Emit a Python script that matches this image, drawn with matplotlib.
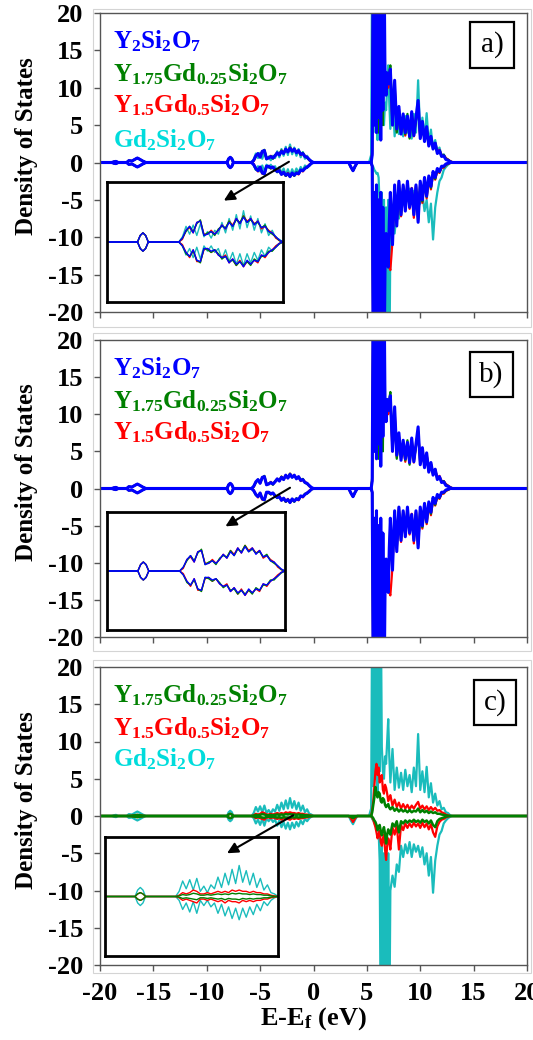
import matplotlib
matplotlib.use("Agg")
import matplotlib.pyplot as plt
from matplotlib.patches import Rectangle, ConnectionPatch

plt.rcParams["font.family"] = ["Liberation Serif", "DejaVu Serif"]
plt.rcParams["font.weight"] = "bold"
plt.rcParams["mathtext.fontset"] = "custom"
plt.rcParams["mathtext.rm"] = "Liberation Serif:bold"
plt.rcParams["mathtext.bf"] = "Liberation Serif:bold"
plt.rcParams["mathtext.it"] = "Liberation Serif:bold"
plt.rcParams["axes.unicode_minus"] = False

# ---- energy grids (eV) ----
E_LOW = [-20.0, -18.9, -18.7, -18.5, -18.3, -17.5, -17.3, -17.0, -16.7, -16.5, -16.3,
         -16.0, -15.7, -8.1, -7.95, -7.8, -7.65, -7.5, -6.0]
E_VB = [-5.8, -5.6, -5.4, -5.2, -5.0, -4.8, -4.6, -4.4, -4.2, -4.0,
        -3.8, -3.6, -3.4, -3.2, -3.0, -2.8, -2.6, -2.4, -2.2, -2.0,
        -1.8, -1.6, -1.4, -1.2, -1.0, -0.8, -0.6, -0.4, -0.2, 0.0]
E_GAP = [0.4, 3.3, 3.5, 3.7, 3.9, 4.1, 5.2]
E_EDGE = [5.4, 5.5, 5.6, 5.7, 5.8, 5.9, 6.0, 6.1, 6.2, 6.3,
          6.4, 6.5, 6.6, 6.7, 6.8, 6.9, 7.0, 7.1]
E_CB = [7.2, 7.4, 7.6, 7.8, 8.0, 8.2, 8.4, 8.6,
        8.8, 9.0, 9.2, 9.4, 9.6, 9.8, 10.0, 10.2, 10.4, 10.6,
        10.8, 11.0, 11.2, 11.4, 11.6, 11.8, 12.0, 12.2, 12.4, 12.6,
        12.8, 13.0, 13.2]
E_TAIL = [13.4, 20.0]

# ---- shared small features (full compounds) ----
LOW_UP = [0, 0, 0.1, 0.15, 0, 0, 0.25, 0.2, 0.45, 0.6, 0.45, 0.2, 0, 0, 0.5, 0.7, 0.5, 0, 0]
LOW_DN = [0, 0, -0.1, -0.15, 0, 0, -0.25, -0.2, -0.45, -0.6, -0.45, -0.2, 0, 0, -0.5, -0.7, -0.5, 0, 0]
GAP_UP = [0, 0, 0, 0, 0, 0, 0]
GAP_DN = [0, 0, -0.6, -1.1, -0.5, 0, 0]
TAIL = [0, 0]

# ---- Y2Si2O7 ----
Y2_VB_UP = [0.0, 0.3, 0.9, 1.2, 0.7, 1.5, 1.6, 0.5, 0.6, 0.8, 0.6, 0.9, 1.3, 1.0, 1.5,
            1.2, 1.8, 1.4, 1.9, 1.5, 1.8, 1.3, 1.6, 1.1, 1.2, 0.8, 0.7, 0.4, 0.15, 0.0]
Y2_VB_DN = [0.0, -0.3, -0.8, -1.1, -0.6, -1.4, -1.5, -0.5, -0.5, -0.7, -0.6, -1.0, -1.2, -1.1, -1.6,
            -1.3, -1.7, -1.5, -1.9, -1.4, -1.7, -1.4, -1.5, -1.0, -1.1, -0.8, -0.6, -0.4, -0.1, 0.0]
Y2_EDGE_UP = [0, 1, 30, 5, 36, 4, 38, 6, 35, 3, 36, 7, 30, 11, 9, 12, 10.5, 11.5]
Y2_EDGE_DN = [0, -0.5, -28, -4, -34, -3, -36, -5, -33, -4, -35, -6, -30, -14, -9.5, -12, -14, -8]
Y2_CB_UP = [12.5, 5, 11, 4.5, 7.5, 3.8, 6.5, 4, 6.2, 3.5, 6.8, 3.6, 6, 8.3, 3.2, 5.5, 2.8, 4.8,
            2.2, 3.5, 1.8, 2.6, 1.2, 1.6, 0.8, 0.9, 0.4, 0.3, 0.1, 0, 0]
Y2_CB_DN = [-4, -11, -3, -8.5, -2.5, -7, -3, -6.5, -2.5, -6, -3.5, -7, -3, -8, -2.5, -5, -2, -4.5,
            -1.8, -3.2, -1.2, -2, -0.8, -1.2, -0.5, -0.5, -0.2, -0.1, 0, 0, 0]

# ---- Y1.75Gd0.25Si2O7 ----
Y175_VB_UP = [0.0, 0.3, 0.8, 1.2, 0.8, 1.4, 1.7, 0.5, 0.7, 0.8, 0.5, 1.0, 1.2, 1.1, 1.6,
              1.2, 1.7, 1.5, 2.0, 1.5, 1.7, 1.4, 1.5, 1.1, 1.3, 0.8, 0.6, 0.4, 0.1, 0.0]
Y175_VB_DN = [0.0, -0.3, -0.9, -1.1, -0.7, -1.4, -1.6, -0.5, -0.6, -0.8, -0.6, -0.9, -1.3, -1.1, -1.5,
              -1.4, -1.8, -1.5, -1.8, -1.5, -1.8, -1.3, -1.5, -1.1, -1.1, -0.7, -0.7, -0.4, -0.15, 0.0]
Y175_EDGE_UP = [0, 1.5, 28, 6, 34, 5, 36, 4, 33, 6, 35, 5, 28, 12, 10, 11.5, 11, 12]
Y175_EDGE_DN = [0, -0.6, -26, -5, -33, -4, -35, -6, -31, -5, -33, -7, -28, -13, -10, -12, -13, -9]
Y175_CB_UP = [13, 5.5, 10, 4, 7, 4.2, 6, 3.8, 6.5, 3.2, 6.4, 3.8, 5.6, 7.6, 3.4, 5.2, 3.0, 4.5,
              2.4, 3.3, 1.9, 2.5, 1.3, 1.5, 0.9, 1.0, 0.5, 0.35, 0.15, 0.05, 0]
Y175_CB_DN = [-4.5, -10, -3.2, -8, -2.8, -6.8, -3.2, -6.2, -2.8, -5.8, -3.6, -6.8, -3.2, -7.6, -2.8, -5.2, -2.2, -4.6,
              -2.0, -3.4, -1.4, -2.2, -1.0, -1.3, -0.6, -0.6, -0.3, -0.15, -0.05, 0, 0]

# ---- Y1.5Gd0.5Si2O7 ----
Y15_VB_UP = [0.0, 0.2, 0.9, 1.1, 0.7, 1.5, 1.6, 0.6, 0.6, 0.9, 0.6, 0.9, 1.3, 1.0, 1.6,
             1.3, 1.8, 1.4, 2.0, 1.6, 1.8, 1.4, 1.6, 1.0, 1.2, 0.9, 0.7, 0.3, 0.1, 0.0]
Y15_VB_DN = [0.0, -0.2, -0.8, -1.2, -0.6, -1.5, -1.5, -0.6, -0.5, -0.8, -0.6, -1.0, -1.2, -1.0, -1.6,
             -1.3, -1.8, -1.4, -1.9, -1.5, -1.7, -1.4, -1.6, -1.0, -1.2, -0.8, -0.6, -0.3, -0.1, 0.0]
Y15_EDGE_UP = [0, 1.2, 29, 5, 35, 6, 37, 5, 34, 4, 34, 6, 29, 10.5, 9.5, 10.5, 10, 11]
Y15_EDGE_DN = [0, -0.5, -27, -5, -32, -4, -35, -5, -31, -6, -32, -7, -29, -12, -10, -13, -12, -14]
Y15_CB_UP = [12, 5, 10.5, 4.2, 7.2, 4, 6.2, 3.6, 6, 3.4, 6.6, 3.5, 5.8, 7.8, 3.3, 5.4, 2.9, 4.6,
             2.3, 3.4, 2.0, 2.6, 1.4, 1.7, 1.0, 1.0, 0.6, 0.4, 0.2, 0.05, 0]
Y15_CB_DN = [-14.4, -10.5, -3.5, -8.2, -2.6, -7.2, -3.1, -6.4, -2.6, -6.2, -3.4, -7.4, -3.1, -7.8, -2.7, -5.4, -2.3, -4.8,
             -2.1, -3.6, -1.5, -2.3, -1.1, -1.4, -0.7, -0.7, -0.35, -0.2, -0.05, 0, 0]

# ---- Gd2Si2O7 ----
GD2_VB_UP = [0.0, 0.4, 1.2, 0.6, 1.3, 0.5, 1.4, 0.4, 0.8, 0.3, 0.9, 0.6, 1.5, 0.7, 1.8,
             0.9, 2.1, 1.0, 2.4, 1.1, 2.0, 0.9, 1.8, 0.7, 1.4, 0.5, 0.9, 0.3, 0.2, 0.0]
GD2_VB_DN = [0.0, -0.3, -1.0, -0.5, -1.2, -0.4, -1.3, -0.3, -0.7, -0.3, -0.8, -0.5, -1.3, -0.6, -1.5,
             -0.8, -1.7, -0.9, -1.8, -0.9, -1.6, -0.8, -1.4, -0.6, -1.1, -0.4, -0.7, -0.3, -0.1, 0.0]
GD2_EDGE_UP = [1, 30, 4, 36, 5, 38, 3, 35, 6, 30, 9.3, 6, 5, 8, 7, 10, 13, 8]
GD2_EDGE_DN = [0, -0.4, -0.6, -1.0, -1.2, -1.5, -1.4, -2, -6, -30, -4, -34, -5, -33, -6, -35, -5, -30]
GD2_CB_UP = [4.5, 9, 3.5, 6.5, 3.8, 5.8, 3.5, 6.2, 4, 5.5, 3.2, 6.5, 4, 11, 3.5, 6, 3.2, 6.6,
             2.5, 4.4, 1.8, 3, 1.4, 2, 0.9, 1.1, 0.5, 0.4, 0.1, 0, 0]
GD2_CB_DN = [-10, -8, -9.5, -6.5, -7.5, -4, -5.5, -3.8, -5, -3.5, -5.5, -3.8, -4.8, -4, -5.5, -4.2, -6.5, -5,
             -8, -5.5, -10.3, -6, -4, -2.5, -2, -1, -0.6, -0.3, -0.1, 0, 0]

# ---- panel c: Gd-resolved part of the mixed compounds ----
P_LOW_UP = [0, 0, 0, 0, 0, 0, 0, 0.05, 0.1, 0.15, 0.1, 0.05, 0, 0, 0.2, 0.3, 0.2, 0, 0]
P_LOW_DN = [0, 0, 0, 0, 0, 0, 0, -0.05, -0.1, -0.15, -0.1, -0.05, 0, 0, -0.2, -0.3, -0.2, 0, 0]
P15_GAP_DN = [0, 0, -0.3, -0.8, -0.3, 0, 0]
P175_GAP_DN = [0, 0, -0.1, -0.3, -0.1, 0, 0]
P15_VB_UP = [0.0, 0.1, 0.3, 0.2, 0.3, 0.5, 0.4, 0.2, 0.2, 0.3, 0.2, 0.3, 0.4, 0.3, 0.4,
             0.3, 0.5, 0.4, 0.5, 0.4, 0.4, 0.3, 0.4, 0.3, 0.3, 0.2, 0.2, 0.1, 0.05, 0.0]
P15_VB_DN = [0.0, -0.1, -0.3, -0.2, -0.3, -0.4, -0.5, -0.2, -0.2, -0.3, -0.2, -0.3, -0.4, -0.3, -0.5,
             -0.3, -0.4, -0.4, -0.5, -0.3, -0.4, -0.3, -0.4, -0.3, -0.3, -0.2, -0.2, -0.1, -0.05, 0.0]
P15_EDGE_UP = [0, 0.8, 2, 4, 6, 7, 5.5, 6.5, 4.5, 5, 5.5, 3.5, 3, 4.2, 3.8, 3, 2, 2.5]
P15_EDGE_DN = [0, -0.2, -0.5, -1, -1.5, -2.2, -3, -2.5, -2, -3.5, -4, -3, -2.5, -4.5, -5.9, -4, -3, -3.5]
P15_CB_UP = [2.8, 1.4, 2.2, 1.2, 1.8, 1.0, 1.6, 1.0, 1.5, 0.9, 1.4, 1.0, 1.5, 1.9, 1.0, 1.4, 0.9, 1.3,
             0.8, 1.2, 0.8, 1.1, 0.7, 0.8, 0.5, 0.4, 0.2, 0.1, 0, 0, 0]
P15_CB_DN = [-4.5, -1.5, -2.5, -1.2, -4.5, -1.2, -1.9, -1.0, -1.6, -1.0, -1.5, -0.9, -1.4, -1.0, -1.6, -0.9, -1.5, -1.0,
             -1.8, -1.1, -2.2, -2.8, -1.4, -0.8, -0.5, -0.4, -0.2, -0.1, 0, 0, 0]
P175_VB_UP = [0.0, 0.05, 0.15, 0.1, 0.15, 0.25, 0.2, 0.1, 0.1, 0.15, 0.1, 0.15, 0.2, 0.15, 0.2,
              0.15, 0.25, 0.2, 0.25, 0.2, 0.2, 0.15, 0.2, 0.15, 0.15, 0.1, 0.1, 0.05, 0.0, 0.0]
P175_VB_DN = [0.0, -0.05, -0.15, -0.1, -0.15, -0.2, -0.25, -0.1, -0.1, -0.15, -0.1, -0.15, -0.2, -0.15, -0.25,
              -0.15, -0.2, -0.2, -0.25, -0.15, -0.2, -0.15, -0.2, -0.15, -0.15, -0.1, -0.1, -0.05, 0.0, 0.0]
P175_EDGE_UP = [0, 0.5, 1.5, 2.5, 3.9, 3.0, 2.5, 3.2, 3, 2, 1.8, 2.4, 2.2, 1.5, 1.2, 1.4, 1.6, 1.1]
P175_EDGE_DN = [0, -0.1, -0.3, -0.6, -0.8, -1.2, -1.9, -1.4, -1.2, -2, -2.6, -2, -1.5, -2.4, -3.7, -2.5, -1.8, -2.2]
P175_CB_UP = [0.9, 1.2, 0.7, 1.0, 0.6, 0.9, 0.6, 0.8, 0.5, 0.8, 0.5, 0.7, 0.6, 1.0, 0.5, 0.8, 0.5, 0.7,
              0.4, 0.6, 0.4, 0.5, 0.3, 0.3, 0.2, 0.15, 0.1, 0, 0, 0, 0]
P175_CB_DN = [-2.5, -1.0, -1.4, -0.7, -2.2, -0.7, -1.0, -0.6, -0.9, -0.6, -0.8, -0.5, -0.8, -0.6, -0.9, -0.5, -0.8, -0.6,
              -1.0, -0.6, -1.2, -1.5, -0.7, -0.4, -0.3, -0.2, -0.1, 0, 0, 0, 0]

LABEL_Y2 = r"$\mathbf{Y_2Si_2O_7}$"
LABEL_Y175 = r"$\mathbf{Y_{1.75}Gd_{0.25}Si_2O_7}$"
LABEL_Y15 = r"$\mathbf{Y_{1.5}Gd_{0.5}Si_2O_7}$"
LABEL_GD2 = r"$\mathbf{Gd_2Si_2O_7}$"

BLUE, GREEN, RED, CYAN = "#0000FF", "#008000", "#FF0000", "#1ABCBC"
CYAN_TXT = "#00DCDC"

E_ALL = E_LOW + E_VB + E_GAP + E_EDGE + E_CB + E_TAIL


def series(color, vb_up, vb_dn, edge_up, edge_dn, cb_up, cb_dn,
           low_up=LOW_UP, low_dn=LOW_DN, gap_dn=GAP_DN, lw=1.6):
    up = low_up + vb_up + GAP_UP + edge_up + cb_up + TAIL
    dn = low_dn + vb_dn + gap_dn + edge_dn + cb_dn + TAIL
    assert len(up) == len(E_ALL) and len(dn) == len(E_ALL)
    return dict(color=color, up=up, dn=dn, lw=lw)


S_Y2 = series(BLUE, Y2_VB_UP, Y2_VB_DN, Y2_EDGE_UP, Y2_EDGE_DN, Y2_CB_UP, Y2_CB_DN, lw=2.2)
S_Y175 = series(GREEN, Y175_VB_UP, Y175_VB_DN, Y175_EDGE_UP, Y175_EDGE_DN, Y175_CB_UP, Y175_CB_DN)
S_Y15 = series(RED, Y15_VB_UP, Y15_VB_DN, Y15_EDGE_UP, Y15_EDGE_DN, Y15_CB_UP, Y15_CB_DN)
S_GD2 = series(CYAN, GD2_VB_UP, GD2_VB_DN, GD2_EDGE_UP, GD2_EDGE_DN, GD2_CB_UP, GD2_CB_DN)
S_P175 = series(GREEN, P175_VB_UP, P175_VB_DN, P175_EDGE_UP, P175_EDGE_DN, P175_CB_UP, P175_CB_DN,
                P_LOW_UP, P_LOW_DN, P175_GAP_DN, lw=1.8)
S_P15 = series(RED, P15_VB_UP, P15_VB_DN, P15_EDGE_UP, P15_EDGE_DN, P15_CB_UP, P15_CB_DN,
               P_LOW_UP, P_LOW_DN, P15_GAP_DN)

W, H = 533, 1040


def px_box(l, t, r, b):
    return [l / W, 1 - b / H, (r - l) / W, (b - t) / H]


fig = plt.figure(figsize=(W / 100, H / 100), dpi=100)

panels = [
    dict(box=(100, 13, 527, 312), inset=(107, 182, 283, 302), tag="a)",
         tagbox=(470, 22, 514, 68), draw=[S_GD2, S_Y15, S_Y175, S_Y2],
         legend=[(LABEL_Y2, BLUE), (LABEL_Y175, GREEN), (LABEL_Y15, RED), (LABEL_GD2, CYAN_TXT)],
         arrow=((-2.3, 0.1), (-8.4, -5.1)), frame=(93, 9, 531, 327)),
    dict(box=(100, 340, 527, 637), inset=(107, 512, 285, 630), tag="b)",
         tagbox=(470, 352, 513, 397), draw=[S_Y15, S_Y175, S_Y2],
         legend=[(LABEL_Y2, BLUE), (LABEL_Y175, GREEN), (LABEL_Y15, RED)],
         arrow=((-2.2, 0.1), (-8.25, -5.1)), frame=(93, 333, 531, 651)),
    dict(box=(100, 667, 527, 965), inset=(105, 837, 278, 956), tag="c)",
         tagbox=(474, 680, 516, 725), draw=[S_GD2, S_P15, S_P175],
         legend=[(LABEL_Y175, GREEN), (LABEL_Y15, RED), (LABEL_GD2, CYAN_TXT)],
         arrow=((-1.9, 0.1), (-8.1, -5.0)), frame=(93, 660, 531, 973)),
]

for i, p in enumerate(panels):
    fr = p["frame"]
    fig.add_artist(Rectangle((fr[0] / W, 1 - fr[3] / H), (fr[2] - fr[0]) / W, (fr[3] - fr[1]) / H,
                             transform=fig.transFigure, fill=False, ec="#d4d4d4", lw=0.8))

    ax = fig.add_axes(px_box(*p["box"]))
    for s in p["draw"]:
        ax.plot(E_ALL, s["up"], color=s["color"], lw=s["lw"])
        ax.plot(E_ALL, s["dn"], color=s["color"], lw=s["lw"])
    ax.set_xlim(-20, 20)
    ax.set_ylim(-20, 20)
    ax.set_xticks(range(-20, 21, 5))
    ax.set_yticks(range(-20, 21, 5))
    for sp in ax.spines.values():
        sp.set_color("#555555")
        sp.set_linewidth(1.0)
    ax.tick_params(direction="out", length=4, width=1, color="#555555", labelsize=19, pad=8)
    if i < 2:
        ax.tick_params(labelbottom=False)
    else:
        ax.set_xlabel(r"E-E$_\mathbf{f}$ (eV)", fontsize=19, fontweight="bold", labelpad=0)

    b = p["box"]
    hgt = b[3] - b[1]
    fig.text(27 / W, 1 - ((b[1] + b[3]) / 2 - 16) / H, "Density of States", rotation=90,
             ha="center", va="center", fontsize=18, fontweight="bold")

    # legend text
    base = [0.880, 0.770, 0.666, 0.552]
    for (lab, col), yb in zip(p["legend"], base):
        ax.text(0.03, yb, lab, color=col, fontsize=18, transform=ax.transAxes,
                ha="left", va="baseline")

    # panel tag box
    tb = p["tagbox"]
    tx0 = (tb[0] - b[0]) / (b[2] - b[0])
    tx1 = (tb[2] - b[0]) / (b[2] - b[0])
    ty0 = (b[3] - tb[3]) / hgt
    ty1 = (b[3] - tb[1]) / hgt
    ax.add_patch(Rectangle((tx0, ty0), tx1 - tx0, ty1 - ty0, transform=ax.transAxes,
                           fill=True, fc="white", ec="black", lw=1.6, zorder=5))
    ax.text((tx0 + tx1) / 2, (ty0 + ty1) / 2, p["tag"], transform=ax.transAxes,
            ha="center", va="center", fontsize=21, fontweight="normal", zorder=6)

    # inset: zoom of the valence band
    axi = fig.add_axes(px_box(*p["inset"]))
    for s in p["draw"]:
        axi.plot(E_ALL, s["up"], color=s["color"], lw=1.0)
        axi.plot(E_ALL, s["dn"], color=s["color"], lw=1.0)
    axi.set_xlim(-9.8, 0.0)
    axi.set_ylim(-4.6, 4.6)
    axi.set_xticks([])
    axi.set_yticks([])
    for sp in axi.spines.values():
        sp.set_color("black")
        sp.set_linewidth(2.0)

    (xa, ya), (xb, yb2) = p["arrow"]
    con = ConnectionPatch(xyA=(xa, ya), coordsA=ax.transData, xyB=(xb, yb2), coordsB=ax.transData,
                          arrowstyle="-|>", color="black", lw=1.5, mutation_scale=16, zorder=10)
    fig.add_artist(con)

fig.savefig("out.png", dpi=100)
